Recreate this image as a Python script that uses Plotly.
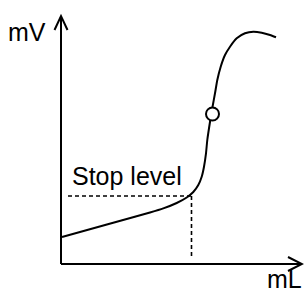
import plotly.graph_objects as go

# Titration curve (x: added volume, y: potential), arbitrary units
curve_x = [1, 45, 89, 102.3, 115.7, 125.7, 132.3, 137.3, 140.7, 143, 145, 146.3, 149.3, 151.5,
           154, 156.3, 159.7, 164, 169, 175.7, 184, 192.3, 200.7, 209, 215]
curve_y = [27, 39.2, 51.5, 55.6, 61.0, 66.5, 72.0, 79, 87.3, 97.3, 110.7, 124, 144, 157,
           170.7, 184, 197.3, 209, 217.3, 225.7, 230.7, 232.3, 231.3, 229, 226.7]

# Inflection (end point) marker
end_x = [151.5]
end_y = [150]

# Stop level point
stop_x = 130.5
stop_y = 68
stop_label = "Stop level"
y_label = "mV"
x_label = "mL"

fig = go.Figure()

# dotted guide lines from stop point
fig.add_trace(go.Scatter(x=[7, stop_x], y=[stop_y, stop_y], mode="lines",
                         line=dict(color="black", width=1.6, dash="4px,3px"), hoverinfo="skip"))
fig.add_trace(go.Scatter(x=[stop_x, stop_x], y=[stop_y, 6], mode="lines",
                         line=dict(color="black", width=1.6, dash="4px,3px"), hoverinfo="skip"))

fig.add_trace(go.Scatter(x=curve_x, y=curve_y, mode="lines",
                         line=dict(color="black", width=2, shape="spline", smoothing=0.5),
                         hoverinfo="skip"))
fig.add_trace(go.Scatter(x=end_x, y=end_y, mode="markers",
                         marker=dict(size=13, color="white", line=dict(color="black", width=2)),
                         hoverinfo="skip"))

# axes with arrows (data coords: origin at 0,0)
ax = dict(color="black", width=2)
shapes = [
    dict(type="line", x0=0, y0=0, x1=0, y1=248, line=ax),
    dict(type="line", x0=0, y0=0, x1=241, y1=0, line=ax),
    dict(type="path", path="M -6.5,234 L 0,248 L 6.5,234", line=ax),
    dict(type="path", path="M 227,7 L 241,0 L 227,-7", line=ax),
]

font = dict(family="Liberation Sans, Arial", size=25, color="black")
annotations = [
    dict(x=-34, y=232, text=y_label, showarrow=False, font=font, xanchor="center", yanchor="middle"),
    dict(x=9, y=88, text=stop_label, showarrow=False, font=font, xanchor="left", yanchor="middle"),
    dict(x=243, y=-31, text=x_label, showarrow=False, font=font, xanchor="right", yanchor="bottom"),
]

fig.update_layout(
    width=304, height=295,
    margin=dict(l=0, r=0, t=0, b=0),
    paper_bgcolor="white", plot_bgcolor="white",
    showlegend=False,
    shapes=shapes, annotations=annotations,
    xaxis=dict(range=[-61, 243], visible=False, fixedrange=True),
    yaxis=dict(range=[-31, 264], visible=False, fixedrange=True),
)
fig.write_html("out.html", config={"displayModeBar": False},
               post_script="document.body.style.margin='0';document.body.style.overflow='hidden';")
